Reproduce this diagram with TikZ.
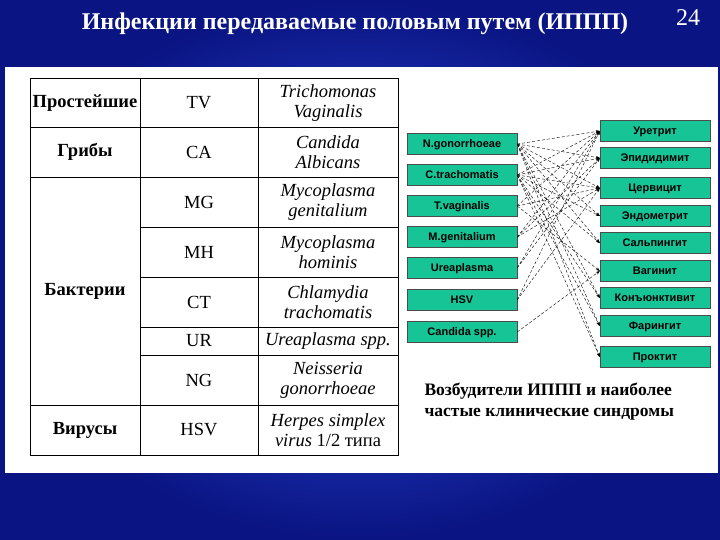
\documentclass[tikz,border=0pt]{standalone}
\usepackage{fontspec}
\setmainfont{Liberation Serif}
\newfontfamily\arialf{Liberation Sans}
\usetikzlibrary{arrows.meta}
\begin{document}
\begin{tikzpicture}[x=1pt,y=-1pt,
 cell/.style={font=\fontsize{18.5}{20}\selectfont,align=center},
 hd/.style={font=\bfseries\fontsize{18.5}{20}\selectfont},
 gbox/.style={draw=black!70,fill={rgb,255:red,22;green,196;blue,150},minimum width=110pt,minimum height=21pt,text depth=0pt,font=\arialf\bfseries\fontsize{11}{12}\selectfont,inner sep=0pt},
 lk/.style={densely dashed,line width=0.4pt,-{Stealth[length=4pt]}}]
\useasboundingbox (0,0) rectangle (720,540);
\shade[inner color={rgb,255:red,45;green,80;blue,230},outer color={rgb,255:red,10;green,20;blue,130}] (0,0) rectangle (720,540);
\node[text=white,font=\bfseries\fontsize{24}{26}\selectfont] (title) at (355,24) {Инфекции передаваемые половым путем (ИППП)};
\node[text=white,font=\fontsize{24}{26}\selectfont] (num) at (688,18) {24};
\fill[white] (5,67) rectangle (718,473);
% table
\draw[line width=0.6pt] (30,78) rectangle (398,455);
\foreach \y in {127,177,405} \draw (30,\y) -- (398,\y);
\foreach \y in {227,277,327,355} \draw (140,\y) -- (398,\y);
\draw (140,78) -- (140,455); \draw (258,78) -- (258,455);
\node[hd] (p1) at (85,103) {Простейшие};
\node[hd] (p2) at (85,152) {Грибы};
\node[hd] (p3) at (85,291) {Бактерии};
\node[hd] (p4) at (85,430) {Вирусы};
\node[cell] (a1) at (199,103) {TV};
\node[cell] (a2) at (199,152) {CA};
\node[cell] (a3) at (199,202) {MG};
\node[cell] (a4) at (199,252) {MH};
\node[cell] (a5) at (199,302) {CT};
\node[cell] (a6) at (199,341) {UR};
\node[cell] (a7) at (199,380) {NG};
\node[cell] (a8) at (199,430) {HSV};
\node[cell] (b1) at (328,103) {\itshape Trichomonas\\\itshape Vaginalis};
\node[cell] (b2) at (328,152) {\itshape Candida\\\itshape Albicans};
\node[cell] (b3) at (328,202) {\itshape Mycoplasma\\\itshape genitalium};
\node[cell] (b4) at (328,252) {\itshape Mycoplasma\\\itshape hominis};
\node[cell] (b5) at (328,302) {\itshape Chlamydia\\\itshape trachomatis};
\node[cell] (b6) at (328,341) {\itshape Ureaplasma spp.};
\node[cell] (b7) at (328,380) {\itshape Neisseria\\\itshape gonorrhoeae};
\node[cell] (b8) at (328,430) {\itshape Herpes simplex\\\itshape virus\upshape\ 1/2 типа};
% left boxes
\node[gbox] (ng) at (462,144) {N.gonorrhoeae};
\node[gbox] (ct) at (462,175) {C.trachomatis};
\node[gbox] (tv) at (462,206) {T.vaginalis};
\node[gbox] (mg) at (462,237) {M.genitalium};
\node[gbox] (ur) at (462,268) {Ureaplasma};
\node[gbox] (hsv) at (462,300) {HSV};
\node[gbox] (cs) at (462,332) {Candida spp.};
% right boxes
\node[gbox] (r1) at (655,131) {Уретрит};
\node[gbox] (r2) at (655,158) {Эпидидимит};
\node[gbox] (r3) at (655,188) {Цервицит};
\node[gbox] (r4) at (655,216) {Эндометрит};
\node[gbox] (r5) at (655,243) {Сальпингит};
\node[gbox] (r6) at (655,271) {Вагинит};
\node[gbox] (r7) at (655,298) {Конъюнктивит};
\node[gbox] (r8) at (655,326) {Фарингит};
\node[gbox] (r9) at (655,357) {Проктит};
\foreach \t in {r1,r2,r3,r4,r5,r7,r8,r9} \draw[lk] (ng.east) -- (\t.west);
\foreach \t in {r1,r2,r3,r4,r5,r7,r8,r9} \draw[lk] (ct.east) -- (\t.west);
\foreach \t in {r1,r3,r6} \draw[lk] (tv.east) -- (\t.west);
\foreach \t in {r1,r2,r3} \draw[lk] (mg.east) -- (\t.west);
\foreach \t in {r1,r2} \draw[lk] (ur.east) -- (\t.west);
\foreach \t in {r1,r3} \draw[lk] (hsv.east) -- (\t.west);
\draw[lk] (cs.east) -- (r6.west);
\node[align=left,anchor=west,font=\bfseries\fontsize{17.5}{21}\selectfont] (cap) at (421,402) {Возбудители ИППП и наиболее\\частые клинические синдромы};
\end{tikzpicture}
\end{document}
